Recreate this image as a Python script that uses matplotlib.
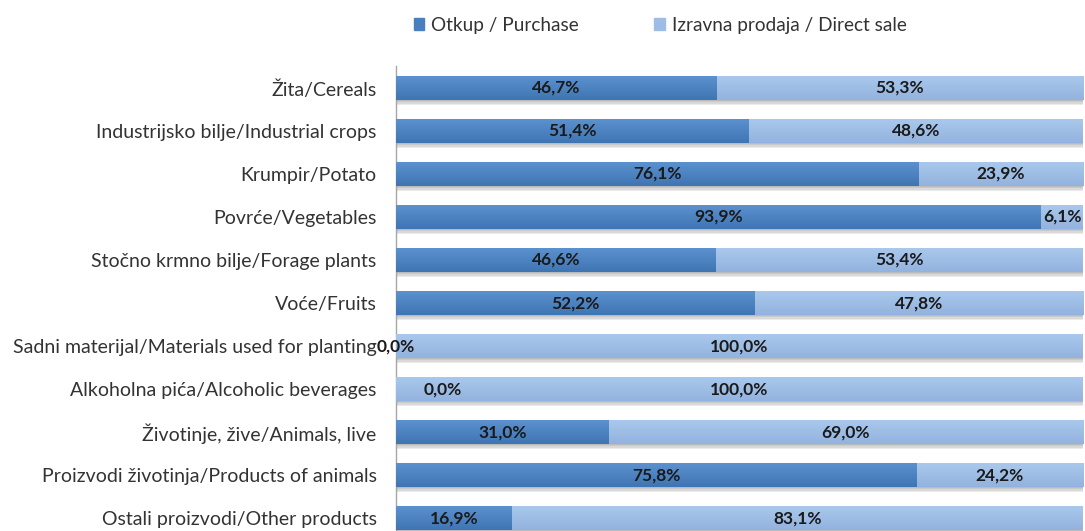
import matplotlib
matplotlib.use("Agg")
import numpy as np
import matplotlib.pyplot as plt
import matplotlib.patheffects as pe
from matplotlib.patches import Patch
from matplotlib.colors import LinearSegmentedColormap

categories = [
    "Žita/Cereals",
    "Industrijsko bilje/Industrial crops",
    "Krumpir/Potato",
    "Povrće/Vegetables",
    "Stočno krmno bilje/Forage plants",
    "Voće/Fruits",
    "Sadni materijal/Materials used for planting",
    "Alkoholna pića/Alcoholic beverages",
    "Životinje, žive/Animals, live",
    "Proizvodi životinja/Products of animals",
    "Ostali proizvodi/Other products",
]
purchase = [46.7, 51.4, 76.1, 93.9, 46.6, 52.2, 0.0, 0.0, 31.0, 75.8, 16.9]
direct_sale = [53.3, 48.6, 23.9, 6.1, 53.4, 47.8, 100.0, 100.0, 69.0, 24.2, 83.1]
series_names = ["Otkup / Purchase", "Izravna prodaja / Direct sale"]

c_purchase = "#4a7fbd"
c_direct = "#9dbde6"
grad_purchase = ["#5c91cf", "#3f75b3"]
grad_direct = ["#aac8ec", "#92b3df"]

plt.rcParams['font.family'] = ['Lato', 'DejaVu Sans']

W, H = 1085, 531
fig = plt.figure(figsize=(W / 100, H / 100), dpi=100)
left_px, right_px, top_px, bot_px = 396, 1083, 66, 531
ax = fig.add_axes([left_px / W, 1 - bot_px / H, (right_px - left_px) / W, (bot_px - top_px) / H])

y = list(range(len(categories)))
bh = 0.54
shadow = [pe.SimplePatchShadow(offset=(0.5, -k), shadow_rgbFace="#404040", alpha=0.10)
          for k in (1.0, 2.0, 3.0, 4.0)] + [pe.Normal()]
b1 = ax.barh(y, purchase, height=bh, color=c_purchase, zorder=3)
b2 = ax.barh(y, direct_sale, left=purchase, height=bh, color=c_direct, zorder=3)
for b in list(b1) + list(b2):
    b.set_path_effects(shadow)

grad = np.linspace(0, 1, 64).reshape(-1, 1)
for bars, cols in ((b1, grad_purchase), (b2, grad_direct)):
    cmap = LinearSegmentedColormap.from_list("g", cols)
    for b in bars:
        if b.get_width() <= 0:
            continue
        x0, yb = b.get_x(), b.get_y()
        im = ax.imshow(grad, cmap=cmap, aspect="auto", interpolation="bilinear",
                       extent=(x0, x0 + b.get_width(), yb + b.get_height(), yb),
                       origin="upper", zorder=3.5)
        im.set_clip_path(b)

for i in y:
    p, d = purchase[i], direct_sale[i]
    dx = 0
    if categories[i].startswith("Alkoholna"):
        dx = 34
    ax.annotate(f"{p:.1f}%".replace(".", ","), (p / 2, i), xytext=(dx, 0), textcoords="offset points",
                ha="center", va="center", fontsize=12.5, fontweight="bold", color="#1a1a1a", zorder=5)
    ax.text(p + d / 2, i, f"{d:.1f}%".replace(".", ","), ha="center", va="center",
            fontsize=12.5, fontweight="bold", color="#1a1a1a", zorder=5)

ax.set_xlim(0, 100)
ax.set_ylim(10.30, -0.51)
ax.set_yticks(y)
ax.set_yticklabels(categories, fontsize=14, color="#333333")
ax.tick_params(axis="y", length=0, pad=14)
ax.set_xticks([])
for s in ["top", "right", "bottom"]:
    ax.spines[s].set_visible(False)
ax.spines["left"].set_color("#a6a6a6")
ax.spines["left"].set_linewidth(1)

handles = [Patch(color=c_purchase), Patch(color=c_direct)]
fig.legend(handles=handles, labels=series_names, loc="center", bbox_to_anchor=(660 / W, 1 - 25 / H),
           ncol=2, frameon=False, fontsize=13.7, handlelength=0.55, handleheight=0.55,
           handletextpad=0.35, columnspacing=4.0, labelcolor="#333333")

fig.savefig("out.png", dpi=100)
